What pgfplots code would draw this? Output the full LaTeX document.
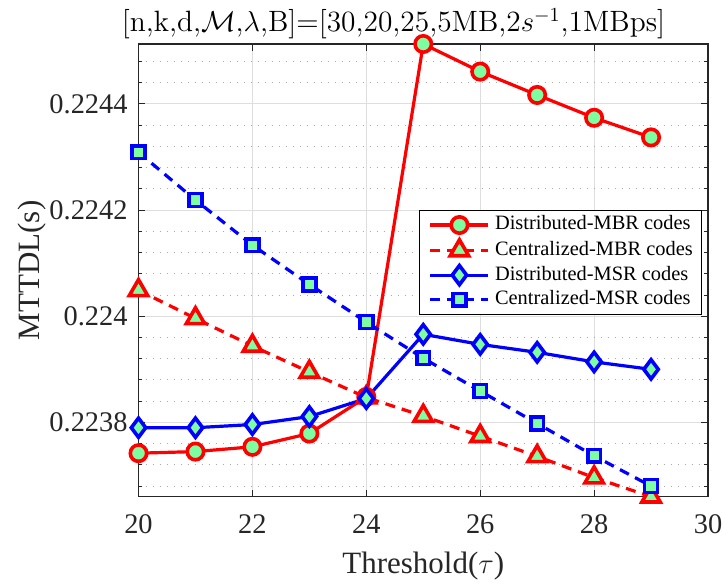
\documentclass[border=0pt]{standalone}
\usepackage{fontspec}
\setmainfont{Liberation Serif}
\usepackage{pgfplots}
\pgfplotsset{compat=1.18}
\definecolor{mkfill}{RGB}{125,255,161}
\definecolor{gridc}{RGB}{222,222,222}
\definecolor{minc}{RGB}{170,170,170}
\definecolor{axc}{RGB}{38,38,38}
\begin{document}
\begin{tikzpicture}
\useasboundingbox (0pt,0pt) rectangle (361pt,291.5pt);
\begin{axis}[
  at={(69.25pt,43.15pt)}, anchor=south west,
  scale only axis, width=284.75pt, height=226.35pt,
  xmin=20, xmax=30, ymin=0.22366, ymax=0.224513,
  clip=false,
  xtick={20,22,24,26,28,30},
  ytick={0.2238,0.224,0.2242,0.2244},
  yticklabels={0.2238,0.224,0.2242,0.2244},
  minor ytick={0.22368,0.22372,0.22376,0.22384,0.22388,0.22392,0.22396,0.22404,0.22408,0.22412,0.22416,0.22424,0.22428,0.22432,0.22436,0.22444,0.22448},
  scaled y ticks=false,
  /pgf/number format/assume math mode=true,
  tick align=inside,
  major tick length=3.5pt, minor tick length=2pt,
  every tick/.style={axc, line width=0.5pt},
  axis line style={axc, line width=0.6pt},
  xmajorgrids, ymajorgrids, yminorgrids,
  major grid style={gridc, line width=0.5pt},
  minor grid style={minc, line width=0.5pt, dash pattern=on 0.5pt off 3pt},
  tick label style={font=\fontsize{14.2}{17}\selectfont, text=axc},
  xticklabel style={anchor=base, inner sep=0pt, yshift=-18.6pt},
  yticklabel style={anchor=east, inner sep=0pt, xshift=-5.25pt},
  xlabel={Threshold($\tau$)},
  ylabel={MTTDL(s)},
  label style={font=\fontsize{15.5}{18}\selectfont, text=axc},
  xlabel style={at={(axis description cs:0.5,-0.1686)}, anchor=base, inner sep=0pt},
  ylabel style={at={(axis description cs:-0.173,0.5)}, anchor=base, rotate=0, inner sep=0pt},
  legend cell align=left,
  legend style={at={(axis description cs:0.9899,0.6333)}, anchor=north east,
    draw=black, line width=0.5pt, fill=white, inner sep=2.3pt,
    font=\fontsize{10.2}{12}\selectfont,
    nodes={inner sep=0pt, text height=7.4pt, text depth=2.5pt},
    row sep=2.45pt, column sep=2.5pt, inner xsep=4.5pt},
  legend image code/.code={\draw[mark repeat=2,mark phase=2,#1] plot coordinates {(0pt,0pt) (14.5pt,0pt) (29pt,0pt)};},
]
\addplot[red, line width=1.6pt, mark=*, mark size=4.1pt, mark options={solid, fill=mkfill, draw=red, line width=1.8pt}]
coordinates {(20,0.223742) (21,0.223745) (22,0.223754) (23,0.223779) (24,0.223848) (25,0.224513) (26,0.224461) (27,0.224417) (28,0.224374) (29,0.224337)};
\addlegendentry{Distributed-MBR codes}
\addplot[red, line width=1.6pt, dash pattern=on 5pt off 3.5pt, mark=triangle*, mark size=5.3pt, mark options={solid, fill=mkfill, draw=red, line width=1.8pt}]
coordinates {(20,0.224049) (21,0.223996) (22,0.223944) (23,0.223895) (24,0.223847) (25,0.223812) (26,0.223774) (27,0.223736) (28,0.223696) (29,0.223660)};
\addlegendentry{Centralized-MBR codes}
\addplot[blue, line width=1.6pt, mark=diamond*, mark size=4.8pt, mark options={solid, fill=mkfill, draw=blue, line width=1.8pt}]
coordinates {(20,0.223790) (21,0.223790) (22,0.223796) (23,0.223811) (24,0.223845) (25,0.223966) (26,0.223947) (27,0.223932) (28,0.223914) (29,0.223900)};
\addlegendentry{Distributed-MSR codes}
\addplot[blue, line width=1.6pt, dash pattern=on 5pt off 3.5pt, mark=square*, mark size=3.2pt, mark options={solid, fill=mkfill, draw=blue, line width=1.8pt}]
coordinates {(20,0.224309) (21,0.224219) (22,0.224134) (23,0.224060) (24,0.223989) (25,0.223921) (26,0.223859) (27,0.223798) (28,0.223737) (29,0.223680)};
\addlegendentry{Centralized-MSR codes}
\end{axis}
\node[anchor=base, inner sep=0pt] at (196.75pt,275.5pt) {\fontfamily{lmr}\selectfont\fontsize{14.7}{17}\selectfont [n,k,d,$\mathcal{M}$,$\lambda$,B]=[30,20,25,5MB,2$s^{-1}$,1MBps]};
\end{tikzpicture}
\end{document}
